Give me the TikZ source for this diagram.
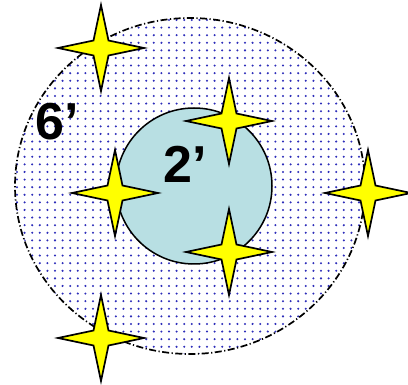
\documentclass[tikz,border=0pt]{standalone}
\usepackage{fontspec}
\setmainfont{Liberation Sans}
\definecolor{dotblue}{RGB}{45,45,185}
\definecolor{innerfill}{RGB}{184,223,227}
\definecolor{staryellow}{RGB}{255,255,0}
\tikzset{
  outerline/.style={line width=1.7pt, dash pattern=on 7pt off 2.5pt on 1.2pt off 2.5pt},
  innercircle/.style={draw=black, line width=1.5pt, fill=innerfill},
  starstyle/.style={draw=black, line width=1.7pt, fill=staryellow, line join=miter},
  bigtext/.style={font=\bfseries\fontsize{52}{52}\selectfont, inner sep=0pt, anchor=base west},
  fourstar/.pic={
    \path[starstyle] (0,-43) -- (7.5,-7.5) -- (43,0) -- (7.5,7.5) -- (0,43)
      -- (-7.5,7.5) -- (-43,0) -- (-7.5,-7.5) -- cycle;
  }
}
\begin{document}
\begin{tikzpicture}[x=1pt, y=-1pt]
\useasboundingbox (0,0) rectangle (408,385);
% dotted outer region
\begin{scope}
  \clip (190,186) ellipse [x radius=175, y radius=168];
  \foreach \i in {0,...,47} {
    \foreach \j in {0,...,45} {
      \fill[dotblue] (17+\i*7.6, 20+\j*7.6) circle (1.15);
    }
  }
\end{scope}
\draw[outerline] (190,186) ellipse [x radius=175, y radius=168];
% inner circle
\path[innercircle] (194,186) circle (78);
\node[bigtext] (six) at (35,140) {6’};
\node[bigtext] (two) at (163,183) {2’};
% stars
\pic at (101,48) {fourstar};
\pic at (115,193) {fourstar};
\pic at (229,121) {fourstar};
\pic at (229,252) {fourstar};
\pic at (368,193) {fourstar};
\pic at (101,338) {fourstar};
\end{tikzpicture}
\end{document}
